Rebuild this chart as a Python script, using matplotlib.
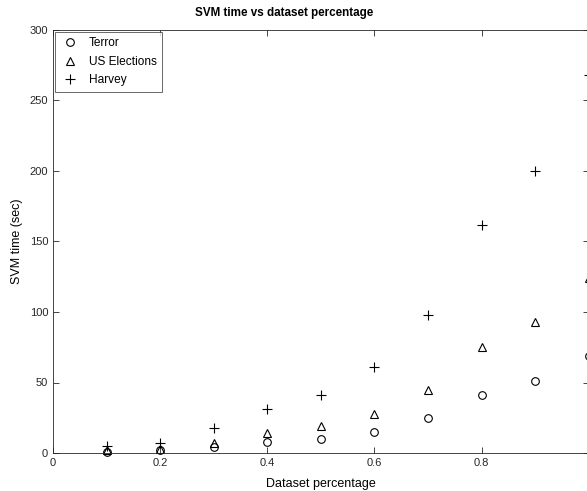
import matplotlib
matplotlib.use("Agg")
import matplotlib.pyplot as plt

plt.rcParams['font.family'] = ['Liberation Sans', 'DejaVu Sans']

pct = [0.1, 0.2, 0.3, 0.4, 0.5, 0.6, 0.7, 0.8, 0.9, 1.0]
terror = [1, 2, 4, 8, 10, 15, 25, 41, 51, 69]
us_elections = [2, 3, 7, 14, 19, 28, 45, 75, 93, 124]
harvey = [5, 7, 18, 31, 41, 61, 98, 162, 200, 268]

fig = plt.figure(figsize=(5.87, 4.91), dpi=100)
ax = fig.add_axes([53/587, 1-453/491, 1-53/587+0.003, (453-30)/491])

ax.plot(pct, terror, 'o', mfc='none', mec='k', ms=5.5, mew=0.8, label='Terror', clip_on=False)
ax.plot(pct, us_elections, '^', mfc='none', mec='k', ms=5.5, mew=0.8, label='US Elections', clip_on=False)
ax.plot(pct, harvey, '+', color='k', ms=6.5, mew=0.8, label='Harvey', clip_on=False)

ax.set_xlim(0, 1)
ax.set_ylim(0, 300)
ax.set_xticks([0, 0.2, 0.4, 0.6, 0.8, 1])
ax.set_xticklabels(['0', '0.2', '0.4', '0.6', '0.8', '1'])
ax.set_yticks(range(0, 301, 50))
ax.tick_params(direction='in', top=True, right=True, labelsize=8, length=4, width=0.6, colors='#262626')
for s in ax.spines.values():
    s.set_linewidth(0.6)
    s.set_color('#262626')

ax.set_xlabel('Dataset percentage', fontsize=9, labelpad=7)
ax.set_ylabel('SVM time (sec)', fontsize=9, labelpad=5)
ax.set_title('SVM time vs dataset percentage', fontsize=8.4, fontweight='bold',
             x=(283-53)/534, pad=10)

leg = ax.legend(loc='upper left', fontsize=8.6, frameon=True, fancybox=False,
                edgecolor='#262626', borderaxespad=0.15, handletextpad=0.8,
                labelspacing=0.55, handlelength=1.6, borderpad=0.45)
leg.get_frame().set_linewidth(0.6)

fig.savefig('out.png', dpi=100)
